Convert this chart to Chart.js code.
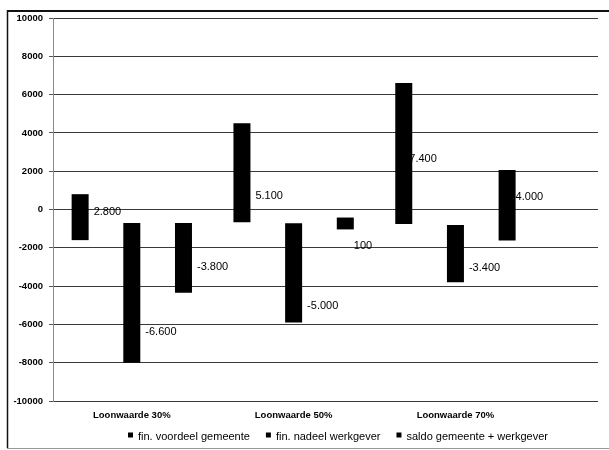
<!DOCTYPE html>
<html>
<head>
<meta charset="utf-8">
<script src="https://cdn.jsdelivr.net/npm/chart.js@4/dist/chart.umd.min.js"></script>
<style>
  html, body { margin: 0; padding: 0; background: #fff; }
  #wrap { width: 609px; height: 450px; position: relative; }
</style>
</head>
<body>
<div id="wrap"><canvas id="chart" width="609" height="450"></canvas></div>
<script>
// Categories (loonwaarde scenarios)
const categories = ['Loonwaarde 30%', 'Loonwaarde 50%', 'Loonwaarde 70%'];

// Series: each bar floats between [low, high]
const voordeelGemeente = [[-1600, 800], [-670, 4500], [-760, 6600]];
const nadeelWerkgever  = [[-8000, -700], [-5900, -720], [-3800, -810]];
const saldoTotaal      = [[-4350, -700], [-1040, -420], [-1620, 2060]];

// Value labels printed next to the bars
const voordeelLabels = ['2.800', '5.100', '7.400'];
const nadeelLabels   = ['-6.600', '-5.000', '-3.400'];
const saldoLabels    = ['-3.800', '100', '4.000'];

// Legend names
const seriesNames = ['fin. voordeel gemeente', 'fin. nadeel werkgever', 'saldo gemeente + werkgever'];

// Y axis tick values
const yTicks = [-10000, -8000, -6000, -4000, -2000, 0, 2000, 4000, 6000, 8000, 10000];

const FONT = '"Liberation Sans", Arial, sans-serif';

function toPoints(ranges) {
  return ranges.map((r, i) => ({ x: i + 1, y: r }));
}

// Thin frame around the whole figure
const framePlugin = {
  id: 'frame',
  beforeDraw(chart) {
    const ctx = chart.ctx;
    ctx.save();
    ctx.fillStyle = '#fff';
    ctx.fillRect(0, 0, chart.width, chart.height);
    ctx.strokeStyle = '#111';
    ctx.lineWidth = 2;
    ctx.beginPath();
    ctx.moveTo(7, 11);
    ctx.lineTo(chart.width, 11);
    ctx.stroke();
    ctx.lineWidth = 1.5;
    ctx.beginPath();
    ctx.moveTo(7.5, 10);
    ctx.lineTo(7.5, 448);
    ctx.stroke();
    ctx.strokeStyle = '#999';
    ctx.lineWidth = 1;
    ctx.beginPath();
    ctx.moveTo(7, 448.5);
    ctx.lineTo(chart.width, 448.5);
    ctx.stroke();
    ctx.restore();
  }
};

// Text labels beside each bar
const barTextPlugin = {
  id: 'barText',
  afterDatasetsDraw(chart, args, opts) {
    const ctx = chart.ctx;
    const yScale = chart.scales.y;
    ctx.save();
    ctx.font = '11px ' + FONT;
    ctx.fillStyle = '#000';
    ctx.textAlign = 'left';
    ctx.textBaseline = 'middle';
    chart.data.datasets.forEach((ds, di) => {
      const meta = chart.getDatasetMeta(di);
      meta.data.forEach((bar, i) => {
        const text = ds.valueLabels[i];
        const x = bar.x + bar.width / 2 + opts.dx[di][i];
        const y = yScale.getPixelForValue(opts.anchors[di][i]);
        ctx.fillText(text, x, y);
      });
    });
    ctx.restore();
  }
};

// Legend row along the bottom
const legendRowPlugin = {
  id: 'legendRow',
  afterDraw(chart, args, opts) {
    const ctx = chart.ctx;
    ctx.save();
    ctx.font = '11px ' + FONT;
    ctx.textAlign = 'left';
    ctx.textBaseline = 'alphabetic';
    let x = opts.startX;
    chart.data.datasets.forEach((ds) => {
      ctx.fillStyle = ds.backgroundColor;
      ctx.fillRect(x, opts.baseline - 7.5, 5, 5);
      x += 5 + opts.boxGap;
      ctx.fillStyle = '#000';
      ctx.fillText(ds.label, x, opts.baseline);
      x += ctx.measureText(ds.label).width + opts.itemGap;
    });
    ctx.restore();
  }
};

const datasets = [
  { label: seriesNames[0], data: toPoints(voordeelGemeente), valueLabels: voordeelLabels },
  { label: seriesNames[1], data: toPoints(nadeelWerkgever), valueLabels: nadeelLabels },
  { label: seriesNames[2], data: toPoints(saldoTotaal), valueLabels: saldoLabels }
].map(d => Object.assign(d, {
  backgroundColor: '#000',
  borderWidth: 0,
  categoryPercentage: 0.958,
  barPercentage: 0.329
}));

new Chart(document.getElementById('chart'), {
  type: 'bar',
  data: { datasets },
  options: {
    responsive: false,
    animation: false,
    devicePixelRatio: 1,
    layout: { padding: { left: 8, right: 11, top: 18, bottom: 30 } },
    plugins: {
      legend: { display: false },
      tooltip: { enabled: false },
      barText: {
        anchors: [[-130, 705, 2640], [-6390, -5040, -3050], [-2985, -1890, 650]],
        dx: [[5, 5, -3], [5, 5, 5], [5, 0, 0]]
      },
      legendRow: { startX: 128, baseline: 440, boxGap: 5, itemGap: 16 }
    },
    scales: {
      x: {
        type: 'linear',
        min: 0.513,
        max: 3.881,
        offset: false,
        grid: { display: false, drawTicks: false, offset: false },
        border: { display: false },
        afterBuildTicks(scale) {
          scale.ticks = categories.map((_, i) => ({ value: i + 1 }));
        },
        afterFit(scale) { scale.height = 19; },
        ticks: {
          autoSkip: false,
          maxRotation: 0,
          padding: 9,
          color: '#000',
          font: { family: FONT, size: 9.5, weight: 'bold' },
          callback: (v) => categories[v - 1]
        }
      },
      y: {
        min: -10000,
        max: 10000,
        afterBuildTicks(scale) {
          scale.ticks = yTicks.map(v => ({ value: v }));
        },
        afterFit(scale) { scale.width = 45; },
        grid: { color: '#3a3a3a', lineWidth: 1, drawTicks: true, tickLength: 4, tickColor: '#555' },
        border: { display: true, color: '#8a8a8a', width: 1 },
        ticks: {
          padding: 6,
          color: '#000',
          font: { family: FONT, size: 9.5, weight: 'bold' },
          callback: (v) => String(v)
        }
      }
    }
  },
  plugins: [framePlugin, barTextPlugin, legendRowPlugin]
});
</script>
</body>
</html>
